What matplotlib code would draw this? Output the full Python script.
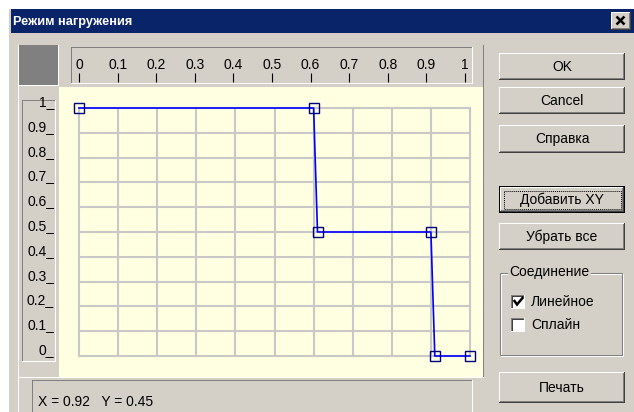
import matplotlib
matplotlib.use("Agg")
import matplotlib.pyplot as plt
from matplotlib.patches import Rectangle

# ---- data ----
load_x = [0.0, 0.60, 0.61, 0.90, 0.91, 1.00]
load_y = [1.0, 1.00, 0.50, 0.50, 0.00, 0.00]
x_ticks = [0.0, 0.1, 0.2, 0.3, 0.4, 0.5, 0.6, 0.7, 0.8, 0.9, 1.0]
x_tick_labels = ["0", "0.1", "0.2", "0.3", "0.4", "0.5", "0.6", "0.7", "0.8", "0.9", "1"]
y_ticks = [0.0, 0.1, 0.2, 0.3, 0.4, 0.5, 0.6, 0.7, 0.8, 0.9, 1.0]
y_tick_labels = ["0", "0.1", "0.2", "0.3", "0.4", "0.5", "0.6", "0.7", "0.8", "0.9", "1"]
title_text = "Режим нагружения"
status_text = "X = 0.92   Y = 0.45"
buttons = ["OK", "Cancel", "Справка", "Добавить XY", "Убрать все", "Печать"]
group_title = "Соединение"
options = ["Линейное", "Сплайн"]
option_checked = [True, False]

W, H = 634, 412
FACE = "#D4D0C8"
DARK = "#808080"
DDARK = "#404040"
FONT = ["Liberation Sans", "DejaVu Sans"]
FS = 10

fig = plt.figure(figsize=(W / 100, H / 100), dpi=100, facecolor="white")
ui = fig.add_axes([0, 0, 1, 1])
ui.set_xlim(0, W)
ui.set_ylim(H, 0)
ui.axis("off")


def rect(x0, y0, x1, y1, fc, z=1):
    ui.add_patch(Rectangle((x0, y0), x1 - x0, y1 - y0, fc=fc, ec="none",
                           zorder=z, antialiased=False))


def hline(x0, x1, y, c, z=2):
    rect(x0, y, x1, y + 1, c, z)


def vline(x, y0, y1, c, z=2):
    rect(x, y0, x + 1, y1, c, z)


def raised(x0, y0, x1, y1, z=2):
    rect(x0, y0, x1, y1, FACE, z)
    hline(x0, x1, y0, "white", z + 0.1)
    vline(x0, y0, y1, "white", z + 0.1)
    hline(x0, x1, y1 - 1, DDARK, z + 0.1)
    vline(x1 - 1, y0, y1, DDARK, z + 0.1)
    hline(x0 + 1, x1 - 1, y1 - 2, DARK, z + 0.1)
    vline(x1 - 2, y0 + 1, y1 - 1, DARK, z + 0.1)


def sunken(x0, y0, x1, y1, fc=None, z=2):
    if fc is not None:
        rect(x0, y0, x1, y1, fc, z)
    hline(x0, x1, y0, DARK, z + 0.1)
    vline(x0, y0, y1, DARK, z + 0.1)
    hline(x0, x1, y1 - 1, "white", z + 0.1)
    vline(x1 - 1, y0, y1, "white", z + 0.1)


# dialog body
rect(8, 8, W, H, FACE, 0.5)
hline(8, W, 8, "white")
vline(8, 8, H, "white")
# title bar
rect(11, 9, W, 33, "#0A246A", 1)
ui.text(13, 21.5, title_text, color="white", fontsize=9.2, fontweight="bold",
        family=FONT, va="center", ha="left", zorder=5)
# close button
raised(611, 12, 631, 30, z=3)
ui.plot([616.5, 624.5], [16.5, 24.5], color="black", lw=1.8, zorder=6, solid_capstyle="butt")
ui.plot([624.5, 616.5], [16.5, 24.5], color="black", lw=1.8, zorder=6, solid_capstyle="butt")

# chart panel
rect(19, 45, 484, 412, FACE, 1)
vline(18, 45, 412, "white")
vline(483, 45, 378, DARK)
rect(19, 45, 58, 85, DARK, 2)
hline(19, 58, 85, "white")
vline(58, 45, 86, "white")
# top ruler
sunken(71, 47, 473, 84)
# left ruler
sunken(22, 100, 56, 362)
# plot area
rect(59, 87, 483, 377, "#FFFFE1", 2)
hline(19, 484, 377, "white")
# status bar
sunken(32, 380, 473, 416)
ui.text(38, 402, status_text, fontsize=FS, family=FONT, va="center", ha="left", zorder=5)

# buttons
btn_boxes = [(53, 80), (87, 114), (125, 153), (186, 213), (223, 250), (372, 403)]
for label, (y0, y1) in zip(buttons, btn_boxes):
    if label == "Добавить XY":
        rect(499, y0, 625, y1, "black", 2)
        raised(500, y0 + 1, 624, y1 - 1, z=2.5)
        ui.add_patch(Rectangle((503.5, y0 + 4.5), 117, y1 - y0 - 9, fc="none", ec="black",
                               lw=0.7, ls=(0, (1, 1)), zorder=4))
    else:
        raised(499, y0, 625, y1)
    ui.text(562, (y0 + y1) / 2, label, fontsize=FS, family=FONT,
            va="center", ha="center", zorder=5)

# group box
ui.add_patch(Rectangle((499.5, 272.5), 122, 82, fc="none", ec=DARK, lw=0.75, zorder=3))
ui.add_patch(Rectangle((500.5, 273.5), 122, 82, fc="none", ec="white", lw=0.75, zorder=2.9))
ui.text(509, 272, group_title, fontsize=FS, family=FONT, va="center", ha="left", zorder=5,
        bbox=dict(fc=FACE, ec="none", pad=1))
cb_y = [295, 318]
for label, checked, cy in zip(options, option_checked, cb_y):
    sunken(511, cy, 525, cy + 14, fc="white", z=3)
    hline(512, 524, cy + 1, DDARK, 3.2)
    vline(512, cy + 1, cy + 13, DDARK, 3.2)
    if checked:
        ui.plot([514.5, 517, 522.5], [301, 304.5, 298], color="black", lw=1.8, zorder=6,
                solid_joinstyle="miter")
    ui.text(531, cy + 7, label, fontsize=FS, family=FONT, va="center", ha="left", zorder=5)

# data axes
ax = fig.add_axes([79 / W, 1 - 356 / H, 391 / W, 248 / H])
ax.set_xlim(0, 1)
ax.set_ylim(0, 1)
ax.patch.set_visible(False)
for s in ax.spines.values():
    s.set_visible(False)
ax.set_xticks(x_ticks)
ax.set_yticks(y_ticks)
ax.tick_params(length=0, labelbottom=False, labelleft=False)
ax.grid(True, color="#C8C8C8", lw=1.5)
for gl in ax.get_xgridlines() + ax.get_ygridlines():
    gl.set_clip_on(False)
ax.plot(load_x, load_y, color="#0000FF", lw=1.2, clip_on=False, zorder=3)
ax.plot(load_x, load_y, "s", ms=6.5, mfc="none", mec="#000080", mew=1.0,
        clip_on=False, zorder=4)
ytrans = ax.get_yaxis_transform()
for v, lab in zip(y_ticks, y_tick_labels):
    ax.text((54 - 79) / 391, v + 0.008, lab + "_", transform=ytrans, fontsize=FS,
            family=FONT, ha="right", va="baseline", clip_on=False)

# top ruler
rul = fig.add_axes([79 / W, 1 - 82 / H, 386 / W, 9 / H])
rul.set_xlim(0, 1)
rul.patch.set_visible(False)
for s in rul.spines.values():
    s.set_visible(False)
rul.set_yticks([])
rul.set_xticks(x_ticks, x_tick_labels)
rul.tick_params(axis="x", direction="in", length=6.5, width=0.8, color="black",
                bottom=True, top=False, labelbottom=False, labeltop=True, pad=0.5,
                labelsize=FS)
for t in rul.get_xticklabels():
    t.set_family(FONT)

fig.savefig("out.png", dpi=100, facecolor="white")
